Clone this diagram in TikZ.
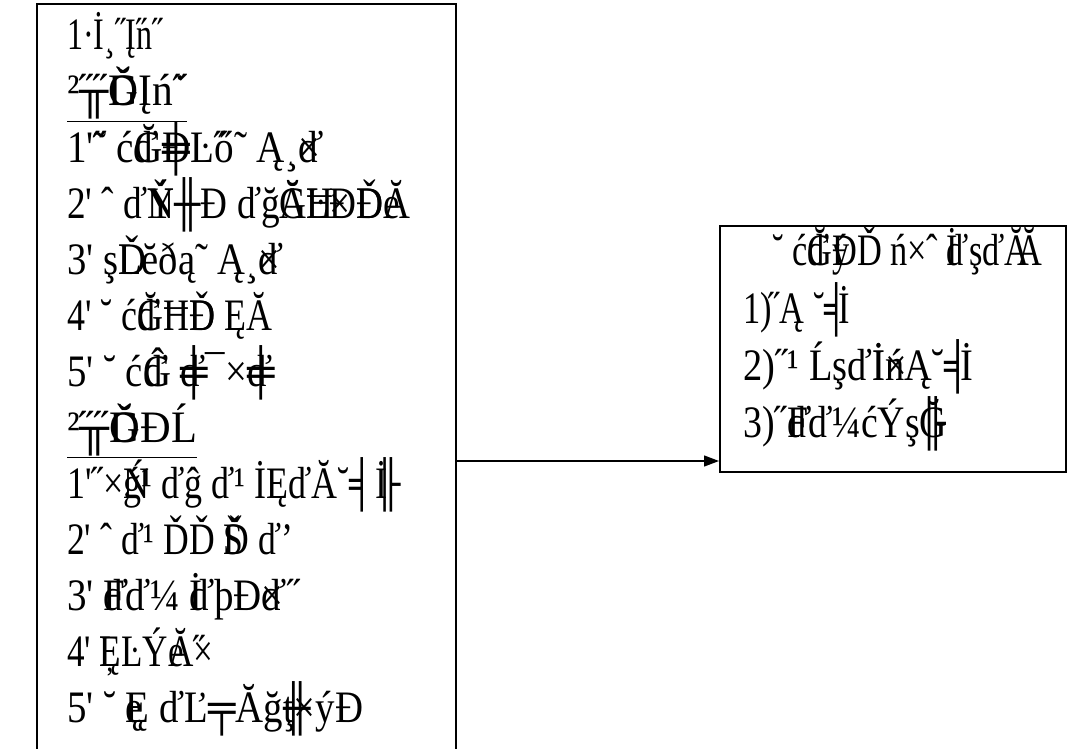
\documentclass[tikz,border=0pt]{standalone}
\usepackage{fontspec}
\usepackage{graphicx}
\setmainfont{Liberation Serif}
\usetikzlibrary{arrows.meta}

% overlay two glyphs on one another
\newcommand\ov[2]{\rlap{#1}#2}
% a box-drawing glyph
\newcommand\bx[1]{#1}
% straight apostrophe
\newcommand\q{\textquotesingle}
% set a line to a given width, keeping its height
\newcommand\fitw[2]{\resizebox{#1pt}{\height}{#2}}

\tikzset{
  txt/.style={anchor=base west, inner sep=0pt, font=\fontsize{45}{52}\selectfont},
  frame/.style={draw=black, line width=2pt},
  link/.style={draw=black, line width=1.3pt, -{Triangle[length=15pt,width=11pt]}}
}

\begin{document}
\begin{tikzpicture}[x=1pt,y=-1pt]
\useasboundingbox (0,0) rectangle (1084,749);
\fill[white] (0,0) rectangle (1084,749);

% left panel, open at the bottom
\draw[frame] (37,749) -- (37,4) -- (456,4) -- (456,749);
\coordinate (src) at (456,461);

% left panel text
\node[txt] (l1)  at (67,50)  {\fitw{96}{1·İ¸˝Į\ov{˝}{n}˝}};
\node[txt] (l2)  at (67,106) {\fitw{120}{\underline{²\ov{˝˝}{\bx{╥}}\ov{Ğ}{Ď}Įń\ov{˙}{˝}}}};
\node[txt] (l3)  at (67,162) {\fitw{253}{1\q\ov{˝}{˜} ć\ov{ď}{Ğ}\ov{\bx{╪}}{Đ}Ŀ\ov{˝}{ő}˜ Ą¸\ov{ď}{×}}};
\node[txt] (l4)  at (67,218) {\fitw{343}{2\q{} ˆ ď\ov{Ň}{Ý}\bx{╫}Ð ďğ\ov{Ă}{Ğ}\ov{Ħ}{Ŀ}\ov{×}{Đ}\ov{Ď}{Đ}\ov{e}{Ă}}};
\node[txt] (l5)  at (67,274) {\fitw{213}{3\q{} ş\ov{Ď}{L}ĕðą˜ Ą¸\ov{ď}{×}}};
\node[txt] (l6)  at (67,330) {\fitw{205}{4\q{} ˘ ć\ov{ď}{Ğ}Ħ\ov{Ď}{Ð} ĘĂ}};
\node[txt] (l7)  at (67,386) {\fitw{205}{5\q{} ˘ ć\ov{ď}{Ĝ} \ov{\bx{╪}}{ď}¯×\ov{\bx{╪}}{ď}}};
\node[txt] (l8)  at (67,442) {\fitw{130}{\underline{²\ov{˝˝}{\bx{╥}}\ov{Ğ}{Ď}ĐĹ}}};
\node[txt] (l9)  at (67,498) {\fitw{320}{1\q˝×\ov{Ń}{ǵ}¹ ďĝ ď¹ İĘďĂ˘\bx{╡}\ov{\bx{╟}}{İ}}};
\node[txt] (l10) at (67,554) {\fitw{226}{2\q{} ˆ ď¹ ĎĎ \ov{Š}{Ď} ď’}};
\node[txt] (l11) at (67,610) {\fitw{233}{3\q{} \ov{ď}{F}ď¼ \ov{İ}{ď}þĐ\ov{×}{ď}˝}};
\node[txt] (l12) at (67,666) {\fitw{146}{4\q{} \ov{Ļ}{Ę}ĿÝ\ov{e}{Ă}\ov{˝}{×}}};
\node[txt] (l13) at (67,722) {\fitw{296}{5\q{} ˘ \ov{ę}{Ę} ďĽ\bx{╤}Ăğ\ov{\bx{╫}}{ţ}×ýĐ}};

% right box
\node[frame, anchor=north west, minimum width=346pt, minimum height=246pt, inner sep=0pt] (notes) at (719,225) {};
\node[txt] (r1) at (772,265) {\fitw{270}{˘ ć\ov{ď}{Ğ}\ov{ý}{Đ}Ď ń×ˆ \ov{İ}{ď}şďĂ\kern-.35emĂ}};
\node[txt] (r2) at (743,323) {\fitw{107}{1)\kern-.1em˝Ą ˘\bx{╡}\kern-.3emİ}};
\node[txt] (r3) at (743,380) {\fitw{230}{2)˝¹ Ĺşď\ov{İ}{}İ\ov{×}{ń}Ą˘\bx{╡}\kern-.3emİ}};
\node[txt] (r4) at (743,437) {\fitw{204}{3)˝\ov{ď}{F}ď¼ćÝş\ov{\bx{╟}}{Ğ}}};

% connector
\draw[link] (src) -- (notes.west |- src);
\end{tikzpicture}
\end{document}
